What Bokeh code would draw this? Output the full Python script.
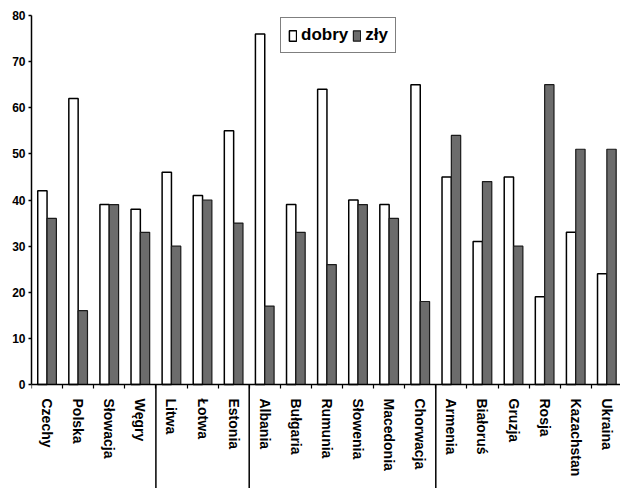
from bokeh.plotting import figure
from bokeh.models import (ColumnDataSource, Range1d, FixedTicker, LinearAxis,
                          Legend, LegendItem)
from bokeh.embed import file_html
from bokeh.resources import INLINE

countries = ["Czechy", "Polska", "Słowacja", "Węgry", "Litwa", "Łotwa", "Estonia",
             "Albania", "Bułgaria", "Rumunia", "Słowenia", "Macedonia", "Chorwacja",
             "Armenia", "Białoruś", "Gruzja", "Rosja", "Kazachstan", "Ukraina"]
dobry = [42, 62, 39, 38, 46, 41, 55, 76, 39, 64, 40, 39, 65, 45, 31, 45, 19, 33, 24]
zly = [36, 16, 39, 33, 30, 40, 35, 17, 33, 26, 39, 36, 18, 54, 44, 30, 65, 51, 51]
group_sizes = [4, 3, 6, 6]
y_ticks = [0, 10, 20, 30, 40, 50, 60, 70, 80]
series_names = ["dobry", "zły"]

FONT = "Liberation Sans"
n = len(countries)
bw = 0.3
centers = [i + 0.5 for i in range(n)]

# layout geometry (pixels)
W, H = 620, 488
LEFT, TOP = 31, 15
ZERO_Y = 384          # pixel row of value 0
PITCH = 31.1          # pixels per category
px_per_unit = (ZERO_Y - TOP) / 80.0
y_low = -(H - ZERO_Y) / px_per_unit
x_high = (W - LEFT) / PITCH

src = ColumnDataSource(dict(
    xd=[c - bw / 2 for c in centers],
    xz=[c + bw / 2 for c in centers],
    dobry=dobry, zly=zly))

p = figure(width=W, height=H, output_backend="svg", toolbar_location=None,
           x_range=Range1d(0, x_high), y_range=Range1d(y_low, 80),
           x_axis_type=None, y_axis_type=None,
           min_border_left=LEFT, min_border_right=0, min_border_top=TOP,
           min_border_bottom=0)
p.outline_line_color = None
p.xgrid.visible = False
p.ygrid.visible = False
p.background_fill_color = "white"
p.border_fill_color = "white"

r1 = p.vbar(x="xd", top="dobry", width=bw, bottom=0, source=src,
            fill_color="white", line_color="black", line_width=1.5)
r2 = p.vbar(x="xz", top="zly", width=bw, bottom=0, source=src,
            fill_color="#6c6c6c", line_color="#1a1a1a", line_width=1.2)

# group separators below the axis
seps = []
pos = 0
for g in group_sizes[:-1]:
    pos += g
    seps.append(pos)
p.segment(x0=seps, y0=[0] * len(seps), x1=seps, y1=[y_low] * len(seps),
          line_color="black", line_width=1.5)

# y axis
ya = LinearAxis(ticker=FixedTicker(ticks=y_ticks, minor_ticks=[]), bounds=(0, 80))
ya.axis_line_color = "black"
ya.axis_line_width = 1.5
ya.major_tick_out = 3
ya.major_tick_in = 0
ya.major_tick_line_width = 1.5
ya.major_label_standoff = 3
ya.major_label_text_font = FONT
ya.major_label_text_font_style = "bold"
ya.major_label_text_font_size = "12px"
ya.major_label_text_color = "black"
p.add_layout(ya, "left")

# x axis at value 0: labels at centres, ticks at category boundaries
xa = LinearAxis(ticker=FixedTicker(ticks=centers, minor_ticks=list(range(n + 1))),
                fixed_location=0)
xa.major_label_overrides = {c: name for c, name in zip(centers, countries)}
xa.major_label_orientation = "vertical"
xa.axis_line_color = "black"
xa.axis_line_width = 1.5
xa.major_tick_line_color = None
xa.major_tick_out = 0
xa.major_tick_in = 0
xa.minor_tick_out = 4
xa.minor_tick_in = 0
xa.minor_tick_line_color = "black"
xa.minor_tick_line_width = 1.2
xa.major_label_standoff = 10
xa.major_label_text_font = FONT
xa.major_label_text_font_style = "bold"
xa.major_label_text_font_size = "14px"
xa.major_label_text_color = "black"
p.add_layout(xa, "below")

legend = Legend(items=[LegendItem(label=series_names[0], renderers=[r1]),
                       LegendItem(label=series_names[1], renderers=[r2])],
                orientation="horizontal", location=(249, H - TOP - 53 + TOP))
legend.border_line_color = "black"
legend.border_line_width = 1.5
legend.background_fill_color = "white"
legend.background_fill_alpha = 1
legend.padding = 7
legend.margin = 0
legend.spacing = 4
legend.label_standoff = 4
legend.glyph_width = 9
legend.glyph_height = 13
legend.label_text_font = FONT
legend.label_text_font_style = "bold"
legend.label_text_font_size = "17px"
legend.label_text_color = "black"
p.add_layout(legend, "center")

open("out.html", "w").write(file_html(p, INLINE))
